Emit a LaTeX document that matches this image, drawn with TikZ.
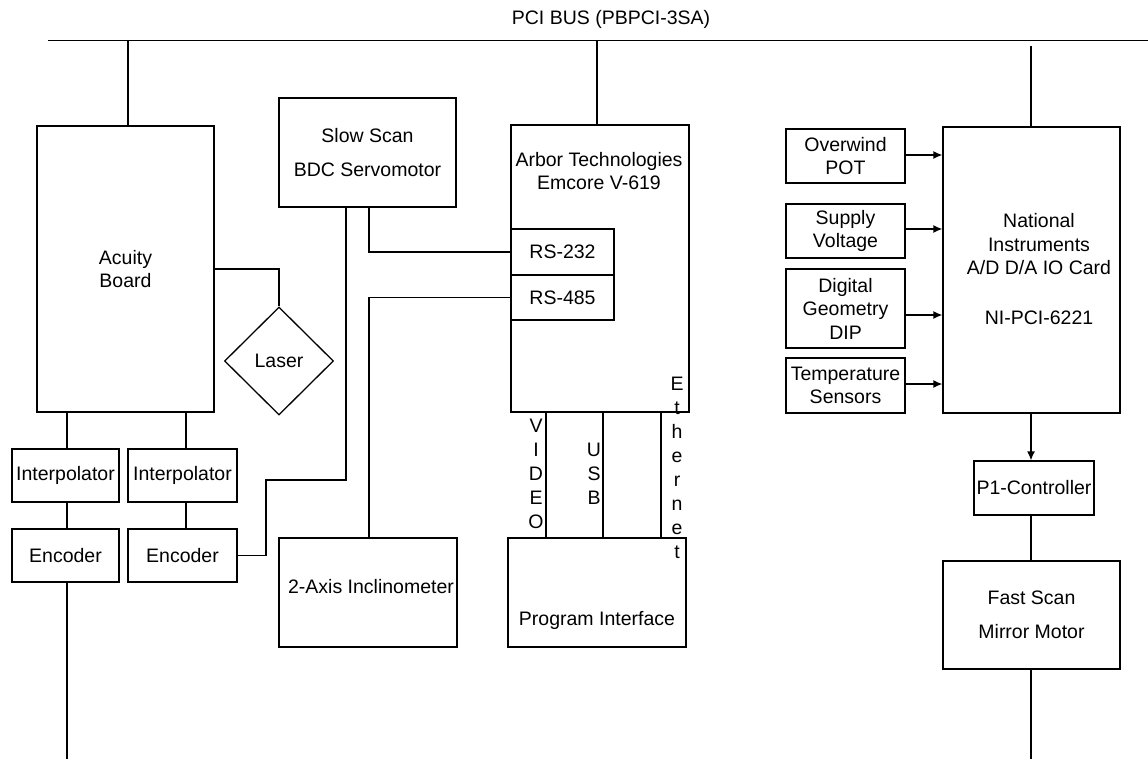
\documentclass[tikz,border=0pt]{standalone}
\usepackage{fontspec}
\setmainfont{Liberation Sans}
\usetikzlibrary{arrows.meta,shapes.geometric}
\begin{document}
\begin{tikzpicture}[x=1pt,y=-1pt, line width=1.3pt,
  box/.style={draw, rectangle, inner sep=0pt, align=center, font=\fontsize{19.5}{23.5}\selectfont},
  txt/.style={inner sep=0pt, align=center, font=\fontsize{19.5}{23.5}\selectfont},
  vtxt/.style={inner sep=0pt, align=center, font=\fontsize{19.5}{24}\selectfont},
  arr/.style={-{Latex[length=9pt,width=8pt]}}]
\useasboundingbox (0,0) rectangle (1148,759);

% title and bus
\node[txt] (title) at (611,19) {PCI BUS (PBPCI-3SA)};
\coordinate (busL) at (48,40.7);
\coordinate (busR) at (1148,40.7);
\draw (busL) -- (busR);

% boxes
\node[box, minimum width=177pt, minimum height=286pt] (acuity) at (125.5,269) {Acuity\\Board};
\node[box, minimum width=177pt, minimum height=109pt] (slow) at (367.5,152.5) {Slow Scan\\[11pt]BDC Servomotor};
\node[box, minimum width=178pt, minimum height=287pt] (arbor) at (600,268.5) {};
\node[txt] (arbortxt) at (599,171) {Arbor Technologies\\Emcore V-619};
\node[box, minimum width=103pt, minimum height=46pt] (rs232) at (562.5,252) {RS-232};
\node[box, minimum width=103pt, minimum height=45pt] (rs485) at (562.5,297.5) {RS-485};
\node[box, shape=diamond, minimum width=109pt, minimum height=108pt] (laser) at (279,361) {Laser};

\node[box, minimum width=107pt, minimum height=53pt] (interp1) at (65.5,475.5) {Interpolator};
\node[box, minimum width=109pt, minimum height=53pt] (interp2) at (182.5,475.5) {Interpolator};
\node[box, minimum width=107pt, minimum height=53pt] (enc1) at (65.5,555.5) {Encoder};
\node[box, minimum width=109pt, minimum height=53pt] (enc2) at (182.5,555.5) {Encoder};

\node[box, minimum width=178pt, minimum height=109pt] (incl) at (368,592.5) {};
\node[txt] (incltxt) at (371,587) {2-Axis Inclinometer};
\node[box, minimum width=178pt, minimum height=109pt] (prog) at (597,592.5) {};
\node[txt] (progtxt) at (597,620) {Program Interface};

\node[box, minimum width=177pt, minimum height=286pt] (ni) at (1031.5,270) {};
\node[txt] (nitxt) at (1039,269) {National\\Instruments\\A/D D/A IO Card\\[26pt]NI-PCI-6221};

\node[box, minimum width=119pt, minimum height=54pt] (over) at (845.5,156) {Overwind\\POT};
\node[box, minimum width=119pt, minimum height=54pt] (supply) at (845.5,231) {Supply\\Voltage};
\node[box, minimum width=119pt, minimum height=79pt] (dip) at (845.5,308.5) {Digital\\Geometry\\DIP};
\node[box, minimum width=119pt, minimum height=55pt] (temp) at (845.5,385.5) {Temperature\\Sensors};

\node[box, minimum width=120pt, minimum height=54pt] (p1) at (1034,488) {P1-Controller};
\node[box, minimum width=177pt, minimum height=108pt] (fast) at (1031.5,615) {Fast Scan\\[11pt]Mirror Motor};

% vertical labels
\node[vtxt] (video) at (536,473.5) {V\\I\\D\\E\\O};
\node[vtxt] (usb) at (594,474) {U\\S\\B};
\node[vtxt] (eth) at (677,468) {E\\t\\h\\e\\r\\n\\e\\t};

% bus drops
\coordinate (b1) at (128,40.7);
\coordinate (b2) at (597,40.7);
\coordinate (b3) at (1031,46);
\draw (b1) -- (b1 |- acuity.north);
\draw (b2) -- (b2 |- arbor.north);
\draw (b3) -- (b3 |- ni.north);

% left side
\draw (acuity.east) -| (laser.north);
\coordinate (x1) at (67,0);
\coordinate (x2) at (186,0);
\draw (x1 |- acuity.south) -- (x1 |- interp1.north);
\draw (x2 |- acuity.south) -- (x2 |- interp2.north);
\draw (x1 |- interp1.south) -- (x1 |- enc1.north);
\draw (x2 |- interp2.south) -- (x2 |- enc2.north);
\coordinate (bottomL) at (67,759);
\draw (x1 |- enc1.south) -- (bottomL);

\coordinate (c1) at (266,480);
\coordinate (c2) at (346,480);
\draw (enc2.east) -| (c1) -- (c2) -- (c2 |- slow.south);
\coordinate (c3) at (369,252);
\draw (c3 |- slow.south) -- (c3) -- (rs232.west);
\coordinate (c4) at (369,297.5);
\draw (rs485.west) -- (c4) -- (c4 |- incl.north);

% arbor to program interface
\coordinate (v1) at (546,0);
\coordinate (v2) at (603,0);
\coordinate (v3) at (661,0);
\draw (v1 |- arbor.south) -- (v1 |- prog.north);
\draw (v2 |- arbor.south) -- (v2 |- prog.north);
\draw (v3 |- arbor.south) -- (v3 |- prog.north);

% right side inputs
\draw[arr] ([yshift=1pt]over.east) -- ([yshift=1pt]over.east -| ni.west);
\draw[arr] ([yshift=2pt]supply.east) -- ([yshift=2pt]supply.east -| ni.west);
\draw[arr] ([yshift=-6.5pt]dip.east) -- ([yshift=-6.5pt]dip.east -| ni.west);
\draw[arr] ([yshift=1.5pt]temp.east) -- ([yshift=1.5pt]temp.east -| ni.west);

\coordinate (d1) at (1031,0);
\draw[arr] (d1 |- ni.south) -- (d1 |- p1.north);
\draw (d1 |- p1.south) -- (d1 |- fast.north);
\coordinate (bottomR) at (1031,759);
\draw (d1 |- fast.south) -- (bottomR);
\end{tikzpicture}
\end{document}
